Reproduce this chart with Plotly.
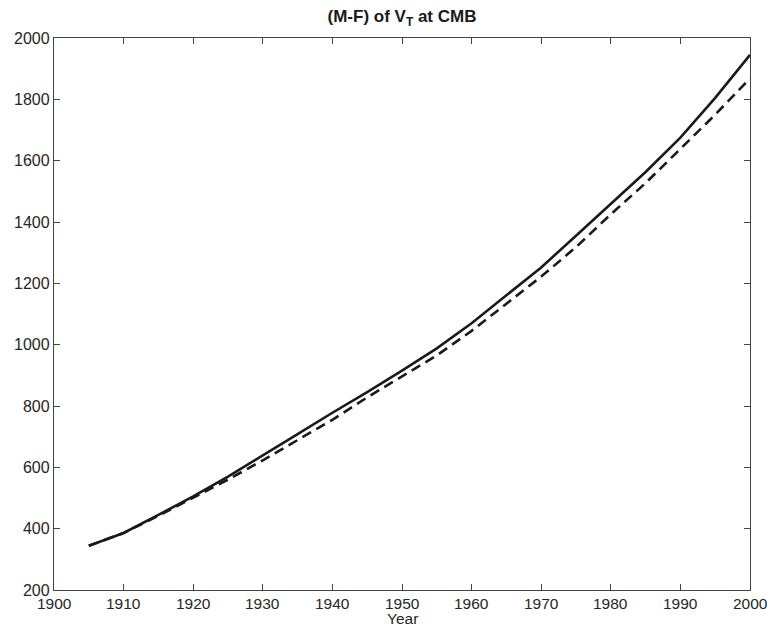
import plotly.graph_objects as go

years = [1905, 1910, 1915, 1920, 1925, 1930, 1935, 1940, 1945, 1950,
         1955, 1960, 1965, 1970, 1975, 1980, 1985, 1990, 1995, 2000]
solid_vals = [344, 386, 445, 505, 570, 638, 708, 778, 845, 915,
              988, 1070, 1160, 1252, 1355, 1460, 1563, 1675, 1805, 1945]
dashed_vals = [344, 386, 442, 500, 560, 623, 688, 755, 828, 897,
               965, 1045, 1135, 1222, 1318, 1425, 1527, 1640, 1750, 1868]

x_ticks = list(range(1900, 2001, 10))
y_ticks = list(range(200, 2001, 200))

FONT = "Liberation Sans, Arial, Helvetica"

fig = go.Figure()
fig.add_trace(go.Scatter(x=years, y=solid_vals, mode="lines",
                         line=dict(color="#1a1a1a", width=2.6), showlegend=False))
fig.add_trace(go.Scatter(x=years, y=dashed_vals, mode="lines",
                         line=dict(color="#1a1a1a", width=2.6, dash="10px,6px"), showlegend=False))

axis_common = dict(showline=True, linecolor="#444444", linewidth=1.3, mirror="ticks",
                   ticks="inside", ticklen=6, tickcolor="#444444", tickwidth=1.3,
                   showgrid=False, zeroline=False, automargin=False,
                   tickfont=dict(family=FONT, size=16, color="#262626"))

# x tick labels as annotations so the last one ("2000") is not clipped at the edge
for t in x_ticks:
    fig.add_annotation(x=t, xref="x", y=0, yref="paper", yanchor="top", yshift=-4,
                       text=str(t), showarrow=False, borderpad=0,
                       font=dict(family=FONT, size=15.5, color="#262626"))
fig.add_annotation(x=0.5, xref="paper", y=0, yref="paper", yanchor="top", yshift=-19,
                   text="Year", showarrow=False, borderpad=0,
                   font=dict(family=FONT, size=15.5, color="#262626"))

fig.update_layout(
    width=767, height=626,
    margin=dict(l=54, r=17, t=38, b=36),
    paper_bgcolor="white", plot_bgcolor="white",
    title=dict(text="<b>(M-F) of V<sub>T</sub> at CMB</b>", x=0.5, xanchor="center",
               xref="paper",
               y=1 - 16 / 626, yanchor="middle",
               font=dict(family=FONT, size=17, color="#1a1a1a")),
    xaxis=dict(range=[1900, 2000], tickvals=x_ticks, showticklabels=False,
               **axis_common),
    yaxis=dict(range=[200, 2000], tickvals=y_ticks, ticktext=[str(v) for v in y_ticks],
               ticklabelstandoff=0,
               **axis_common),
)

fig.write_html("out.html")
